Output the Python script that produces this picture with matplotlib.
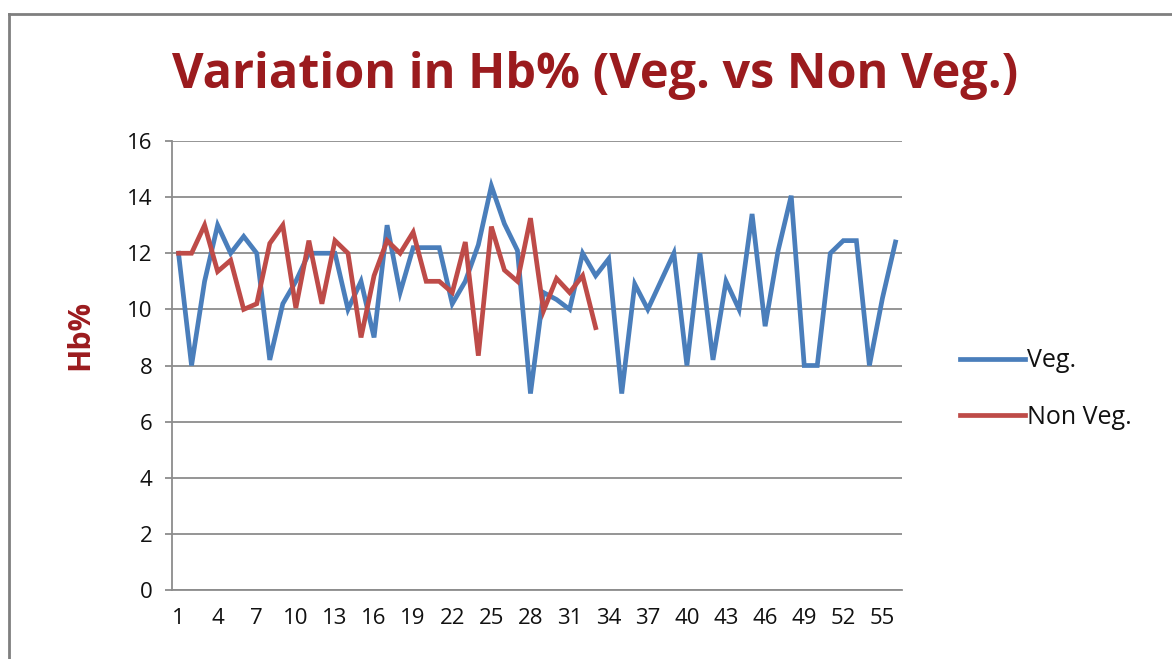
import matplotlib
matplotlib.use("Agg")
import matplotlib.pyplot as plt
from matplotlib.lines import Line2D

veg = [12, 8, 11, 13, 12, 12.6, 12, 8.2, 10.2, 11, 12, 12, 12, 10, 11, 9, 13, 10.6,
       12.2, 12.2, 12.2, 10.2, 11, 12.3, 14.4, 13.05, 12.1, 7.0, 10.6, 10.35, 10, 12,
       11.2, 11.8, 7.0, 10.9, 10, 11, 12, 8, 12, 8.2, 11, 10, 13.4, 9.4, 12.1, 14.05,
       8, 8, 12, 12.45, 12.45, 8, 10.4, 12.4]
non_veg = [12, 12, 13, 11.35, 11.75, 10, 10.2, 12.35, 13, 10.05, 12.45, 10.2, 12.45,
           12, 9, 11.2, 12.45, 12, 12.75, 11, 11, 10.6, 12.4, 8.35, 12.95, 11.4, 11,
           13.25, 9.95, 11.1, 10.6, 11.2, 9.35]
series_names = ["Veg.", "Non Veg."]
x_ticks = list(range(1, 56, 3))
y_ticks = list(range(0, 17, 2))
title = "Variation in Hb% (Veg. vs Non Veg.)"
y_label = "Hb%"

blue = "#4A7EBB"
red = "#BE4B48"
dark_red = "#9B1B1E"
grid_col = "#8C8C8C"
font = "Open Sans"

fig = plt.figure(figsize=(11.72, 6.59), dpi=100)
ax = fig.add_axes([172/1172, 1 - 590/659, (902-172)/1172, (590-141)/659])

xv = list(range(1, len(veg) + 1))
xn = list(range(1, len(non_veg) + 1))
ax.plot(xv, veg, color=blue, lw=3.4, solid_joinstyle="miter", zorder=3)
ax.plot(xn, non_veg, color=red, lw=3.4, solid_joinstyle="miter", zorder=4)

ax.set_xlim(0.5, len(veg) + 0.5)
ax.set_ylim(0, 16)
ax.set_yticks(y_ticks)
ax.set_xticks(x_ticks)
ax.yaxis.grid(True, color=grid_col, lw=1.3)
ax.set_axisbelow(True)
for s in ["top", "right"]:
    ax.spines[s].set_visible(False)
for s in ["left", "bottom"]:
    ax.spines[s].set_color(grid_col)
    ax.spines[s].set_linewidth(1.3)
ax.tick_params(axis="y", length=5, color=grid_col, width=1.3, pad=9)
ax.tick_params(axis="x", length=0, pad=13)
for lab in ax.get_xticklabels() + ax.get_yticklabels():
    lab.set_fontfamily(font)
    lab.set_fontsize(16)
    lab.set_color("#111111")

fig.text(80/1172, 1 - 335/659, y_label, rotation=90, ha="center", va="center",
         fontfamily=font, fontsize=22, fontweight="bold", color=dark_red)

fig.text(595/1172, 1 - 76/659, title, ha="center", va="center", fontfamily=font,
         fontsize=35, fontweight="bold", color=dark_red)

handles = [Line2D([0], [0], color=blue, lw=3.4), Line2D([0], [0], color=red, lw=3.4)]
leg = fig.legend(handles, series_names, loc="center left",
                 bbox_to_anchor=(937/1172, 1 - 389/659), frameon=False,
                 handlelength=2.6, handletextpad=0.1, labelspacing=1.25,
                 prop={"family": font, "size": 18})
for t in leg.get_texts():
    t.set_color("#111111")

# outer chart border (left and top visible)
fig.add_artist(Line2D([9.5/1172, 9.5/1172], [0, 1 - 14/659], color="#7F7F7F", lw=2,
                      transform=fig.transFigure))
fig.add_artist(Line2D([9.5/1172, 1], [1 - 14/659, 1 - 14/659], color="#7F7F7F", lw=2,
                      transform=fig.transFigure))

fig.savefig("out.png", dpi=100)
